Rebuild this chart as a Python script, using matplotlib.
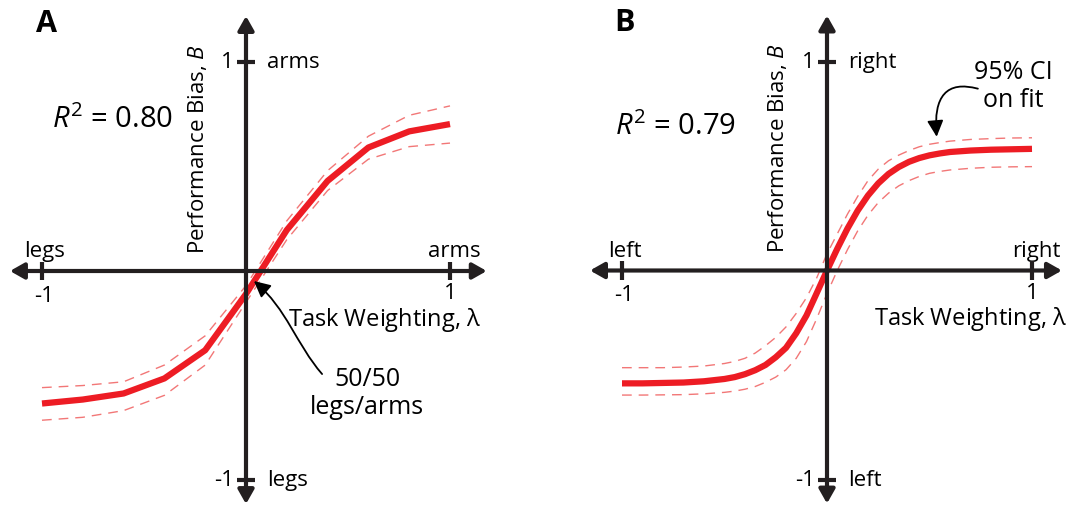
import matplotlib.pyplot as plt
from matplotlib.patches import FancyArrowPatch
from matplotlib.path import Path

plt.rcParams['font.family'] = ['Open Sans', 'DejaVu Sans']
plt.rcParams['mathtext.fontset'] = 'custom'
plt.rcParams['mathtext.rm'] = 'Open Sans'
plt.rcParams['mathtext.it'] = 'Open Sans:italic'

AXIS_COLOR = '#231f20'
FIT_COLOR = '#ed1c24'
CI_COLOR = '#f27777'

# Panel A: legs vs arms
lam_a = [-1.0, -0.8, -0.6, -0.4, -0.2, 0.0, 0.2, 0.4, 0.6, 0.8, 1.0]
bias_a = [-0.634, -0.615, -0.586, -0.514, -0.379, -0.11, 0.196, 0.431, 0.591, 0.668, 0.703]
upper_a = [-0.558, -0.548, -0.53, -0.45, -0.31, -0.07, 0.24, 0.48, 0.645, 0.745, 0.79]
lower_a = [-0.714, -0.70, -0.668, -0.595, -0.45, -0.15, 0.15, 0.385, 0.535, 0.595, 0.612]
r2_a = 0.80

# Panel B: left vs right
lam_b = [-1.0, -0.9, -0.8, -0.7, -0.6, -0.5, -0.45, -0.4, -0.35, -0.3, -0.25, -0.2, -0.15,
         -0.1, -0.05, 0.0, 0.05, 0.1, 0.15, 0.2, 0.25, 0.3, 0.35, 0.4, 0.45, 0.5, 0.55,
         0.6, 0.7, 0.8, 0.9, 1.0]
bias_b = [-0.54, -0.54, -0.538, -0.536, -0.53, -0.519, -0.51, -0.496, -0.477, -0.452,
          -0.415, -0.37, -0.30, -0.215, -0.108, 0.0, 0.104, 0.201, 0.287, 0.359, 0.417,
          0.462, 0.495, 0.52, 0.538, 0.551, 0.56, 0.567, 0.574, 0.578, 0.58, 0.582]
upper_b = [-0.465, -0.465, -0.465, -0.462, -0.457, -0.445, -0.435, -0.42, -0.395, -0.36,
           -0.32, -0.27, -0.205, -0.13, -0.035, 0.08, 0.175, 0.27, 0.355, 0.43, 0.485,
           0.525, 0.552, 0.574, 0.592, 0.604, 0.612, 0.619, 0.627, 0.631, 0.634, 0.635]
lower_b = [-0.596, -0.596, -0.595, -0.594, -0.59, -0.583, -0.577, -0.568, -0.555, -0.535,
           -0.51, -0.475, -0.42, -0.34, -0.23, -0.11, 0.0, 0.1, 0.19, 0.265, 0.325,
           0.37, 0.405, 0.43, 0.45, 0.465, 0.474, 0.481, 0.489, 0.494, 0.496, 0.497]
r2_b = 0.79

FIG_W, FIG_H = 1074, 506
fig = plt.figure(figsize=(FIG_W / 100, FIG_H / 100), dpi=100)


def make_panel(rect, x0, y0, ux, uy):
    # x0, y0: origin in pixels from the panel's left / top edge; ux, uy: pixels per unit
    ax = fig.add_axes(rect)
    w = rect[2] * FIG_W
    h = rect[3] * FIG_H
    ax.set_xlim(-x0 / ux, (w - x0) / ux)
    ax.set_ylim(-(h - y0) / uy, y0 / uy)
    ax.axis('off')
    return ax


def draw_axes(ax, x_ends, y_ends, x_names, y_names, title_x):
    arrow = dict(arrowstyle='<|-|>,head_length=0.6,head_width=0.34', mutation_scale=14,
                 lw=3, color=AXIS_COLOR, shrinkA=0, shrinkB=0)
    ax.annotate('', xy=(x_ends[1], 0), xytext=(x_ends[0], 0), arrowprops=arrow, zorder=5)
    ax.annotate('', xy=(0, y_ends[1]), xytext=(0, y_ends[0]), arrowprops=arrow, zorder=5)
    for v in (-1, 1):
        ax.plot([v, v], [-0.044, 0.044], color=AXIS_COLOR, lw=3, solid_capstyle='butt', zorder=5)
        ax.plot([-0.045, 0.045], [v, v], color=AXIS_COLOR, lw=3, solid_capstyle='butt', zorder=5)

    fs = 16
    # y-axis tick labels and end names
    ax.text(-0.06, 1, '1', ha='right', va='center', fontsize=fs)
    ax.text(-0.06, -1, '-1', ha='right', va='center', fontsize=fs)
    ax.text(0.105, 1, y_names[1], ha='left', va='center', fontsize=fs)
    ax.text(0.105, -1, y_names[0], ha='left', va='center', fontsize=fs)
    # x-axis tick labels and end names
    ax.text(-0.99, -0.115, '-1', ha='center', va='center', fontsize=fs)
    ax.text(1.0, -0.105, '1', ha='center', va='center', fontsize=fs)
    ax.text(-0.985, 0.07, x_names[0], ha='center', va='baseline', fontsize=fs)
    ax.text(1.02, 0.07, x_names[1], ha='center', va='baseline', fontsize=fs)

    ax.text(title_x, -0.228, r'Task Weighting, $\mathrm{\lambda}$', ha='center', va='center', fontsize=17)
    ax.text(-0.24, 0.59, r'Performance Bias, $B$', rotation=90, ha='center', va='center', fontsize=fs)


def draw_fit(ax, lam, bias, upper, lower):
    ax.plot(lam, bias, color=FIT_COLOR, lw=4.5, solid_capstyle='butt', zorder=3)
    for band in (upper, lower):
        ax.plot(lam, band, color=CI_COLOR, lw=1.0, dashes=(7, 5), zorder=2)


# ---- panel A ----
ax_a = make_panel([0, 0, 0.5, 1], 246, 272, 204, 209)
draw_fit(ax_a, lam_a, bias_a, upper_a, lower_a)
draw_axes(ax_a, (-1.157, 1.18), (-1.115, 1.22), ('legs', 'arms'), ('legs', 'arms'), 0.68)
ax_a.text(-0.978, 1.187, 'A', ha='center', va='center', fontsize=22, fontweight='bold')
ax_a.text(-0.951, 0.689, r'$R^{2}$ = %.2f' % r2_a, ha='left', va='baseline', fontsize=21)

ax_a.text(0.593, -0.58, '50/50\nlegs/arms', ha='center', va='center', fontsize=18, linespacing=1.15)
verts = [(0.373, -0.493), (0.245, -0.349), (0.201, -0.182), (0.039, -0.048)]
codes = [Path.MOVETO, Path.CURVE4, Path.CURVE4, Path.CURVE4]
ax_a.add_patch(FancyArrowPatch(path=Path(verts, codes),
                               arrowstyle='-|>,head_length=0.7,head_width=0.35',
                               mutation_scale=14, lw=1.3, color='black', zorder=6))

# ---- panel B ----
ax_b = make_panel([0.5, 0, 0.5, 1], 827 - 537, 271.5, 205, 209)
draw_fit(ax_b, lam_b, bias_b, upper_b, lower_b)
draw_axes(ax_b, (-1.156, 1.146), (-1.115, 1.22), ('left', 'right'), ('left', 'right'), 0.70)
ax_b.text(-0.99, 1.187, 'B', ha='center', va='center', fontsize=22, fontweight='bold')
ax_b.text(-1.034, 0.653, r'$R^{2}$ = %.2f' % r2_b, ha='left', va='baseline', fontsize=21)

ax_b.text(0.91, 0.885, '95% CI\non fit', ha='center', va='center', fontsize=18, linespacing=1.15)
ax_b.annotate('', xy=(0.535, 0.64), xytext=(0.736, 0.87),
              arrowprops=dict(arrowstyle='-|>,head_length=0.7,head_width=0.35', mutation_scale=14,
                              lw=1.3, color='black', shrinkA=0, shrinkB=0,
                              connectionstyle='angle3,angleA=165,angleB=95'))

fig.savefig('out.png', dpi=100)
